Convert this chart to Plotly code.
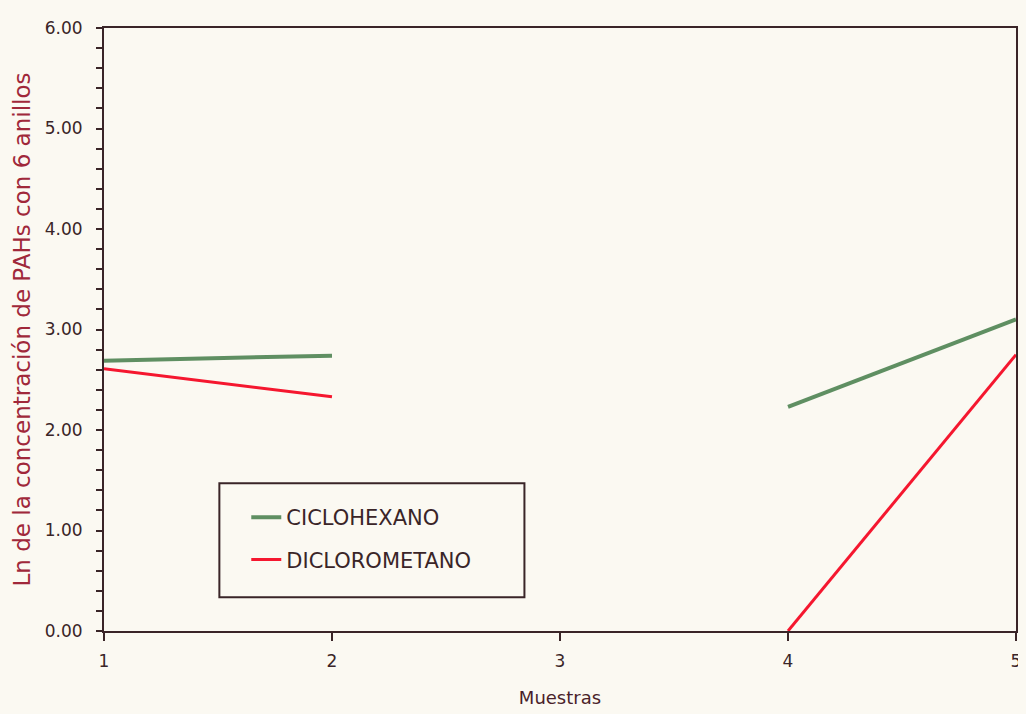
import plotly.graph_objects as go

muestras = [1, 2, 3, 4, 5]
ciclohexano = [2.69, 2.74, None, 2.23, 3.10]
diclorometano = [2.61, 2.33, None, 0.0, 2.75]

bg = "#fbf9f2"
ink = "#3a2528"
font = "DejaVu Sans"

fig = go.Figure()
fig.add_trace(go.Scatter(x=muestras, y=ciclohexano, mode="lines", name="CICLOHEXANO",
                         line=dict(color="#5f8f62", width=4), connectgaps=False,
                         legendgroup="a"))
fig.add_trace(go.Scatter(x=muestras, y=diclorometano, mode="lines", name="DICLOROMETANO",
                         line=dict(color="#f5172f", width=3), connectgaps=False,
                         legendgroup="b"))

fig.update_xaxes(range=[1, 5], tickvals=muestras, ticktext=[str(m) for m in muestras],
                 showline=True, mirror=True, linecolor=ink, linewidth=2,
                 ticks="outside", ticklen=8, tickwidth=2, tickcolor=ink,
                 ticklabelstandoff=6,
                 showgrid=False, zeroline=False,
                 tickfont=dict(family=font, size=17, color=ink),
                 title=dict(text="Muestras", font=dict(family=font, size=18, color="#4a1f2a"),
                            standoff=21))
fig.update_yaxes(range=[0, 6], dtick=1, tickformat=".2f",
                 showline=True, mirror=True, linecolor=ink, linewidth=2,
                 ticks="outside", ticklen=6, tickwidth=2, tickcolor=ink,
                 ticklabelstandoff=10,
                 minor=dict(dtick=0.2, ticks="outside", ticklen=6, tickwidth=2, tickcolor=ink),
                 showgrid=False, zeroline=False,
                 tickfont=dict(family=font, size=17, color=ink),
                 title=dict(text="Ln de la concentración de PAHs con 6 anillos",
                            font=dict(family=font, size=23, color="#a0283a"), standoff=8))

# legend frame
fig.add_shape(type="rect", xref="paper", yref="paper",
              x0=0.1265, x1=0.461, y0=0.056, y1=0.245,
              line=dict(color=ink, width=2), fillcolor="rgba(0,0,0,0)")

fig.update_layout(
    width=1018, height=706,
    margin=dict(l=96, r=5, t=20, b=83),
    paper_bgcolor=bg, plot_bgcolor=bg,
    showlegend=True,
    legend=dict(x=0.156, y=0.222, xanchor="left", yanchor="top",
                bgcolor="rgba(0,0,0,0)", borderwidth=0,
                tracegroupgap=12,
                font=dict(family=font, size=21, color=ink)),
)

fig.write_html("out.html", post_script="document.body.style.background='%s';" % bg)
